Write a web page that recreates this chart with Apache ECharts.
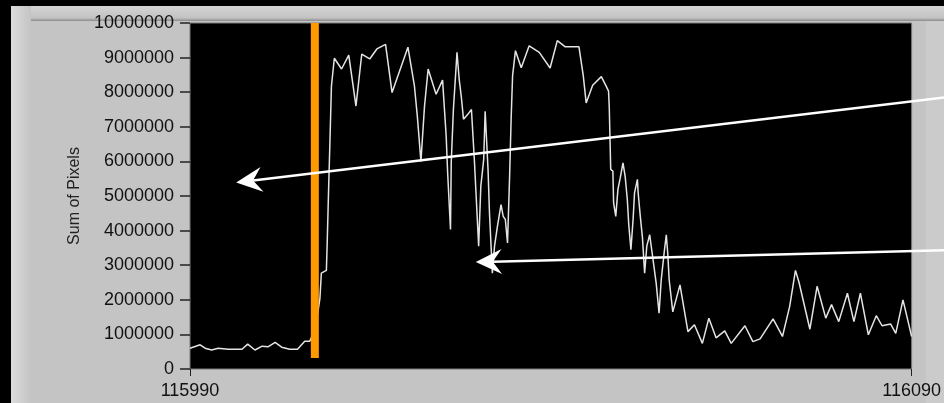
<!DOCTYPE html>
<html>
<head>
<meta charset="utf-8">
<script src="https://cdn.jsdelivr.net/npm/echarts@6/dist/echarts.min.js"></script>
<style>
  html, body { margin: 0; padding: 0; background: #000; }
  #chart { width: 944px; height: 403px; }
</style>
</head>
<body>
<div id="chart"></div>
<script>
// frame number on x, sum of pixels on y
var frameX = [
  115990.0, 115991.4, 115992.1, 115993.0, 115993.9, 115995.3, 115997.2, 115998.0, 115999.0, 116000.0,
  116000.8, 116001.8, 116002.7, 116003.8, 116004.9, 116005.9, 116006.6, 116007.4, 116008.0, 116008.2,
  116008.9, 116009.0, 116009.2, 116009.4, 116009.6, 116010.0, 116011.0, 116012.0, 116013.0, 116013.8,
  116014.9, 116015.9, 116017.1, 116018.0, 116020.2, 116021.1, 116021.5, 116022.0, 116022.5, 116023.0,
  116024.1, 116025.0, 116025.5, 116025.7, 116026.1, 116026.2, 116026.5, 116027.0, 116027.3, 116027.6,
  116027.9, 116028.5, 116029.0, 116029.4, 116030.0, 116030.3, 116030.7, 116030.9, 116031.3, 116031.5,
  116031.9, 116032.2, 116032.6, 116033.1, 116033.4, 116033.7, 116034.0, 116034.3, 116034.5, 116034.7,
  116035.1, 116035.9, 116037.0, 116038.4, 116039.9, 116040.9, 116042.0, 116043.9, 116044.5, 116044.9,
  116045.8, 116047.0, 116047.7, 116048.0, 116048.1, 116048.3, 116048.6, 116048.7, 116049.0, 116049.3,
  116049.6, 116050.0, 116050.3, 116050.6, 116050.8, 116051.1, 116051.4, 116051.6, 116052.0, 116052.1,
  116052.4, 116052.7, 116053.0, 116053.3, 116053.7, 116053.9, 116054.1, 116054.6, 116055.0, 116055.3,
  116055.7, 116056.0, 116056.2, 116056.4, 116056.9, 116057.9, 116059.0, 116059.9, 116061.0, 116061.9,
  116062.9, 116064.1, 116065.0, 116066.9, 116068.0, 116069.0, 116070.8, 116072.1, 116073.1, 116073.9,
  116074.4, 116075.9, 116076.9, 116078.1, 116078.9, 116079.9, 116081.1, 116082.0, 116082.9, 116084.0,
  116085.1, 116085.9, 116087.1, 116087.8, 116088.8, 116090.0
];
var pixelSum = [
  600000, 700000, 600000, 550000, 600000, 570000, 570000, 720000, 550000, 660000,
  640000, 770000, 630000, 570000, 570000, 800000, 800000, 1200000, 2030000, 2770000,
  2850000, 3550000, 5140000, 6640000, 8180000, 8980000, 8670000, 9070000, 7600000, 9100000,
  8960000, 9250000, 9380000, 7990000, 9300000, 8180000, 7310000, 6000000, 7600000, 8670000,
  7940000, 8350000, 6730000, 5680000, 4030000, 5960000, 7500000, 9150000, 8380000, 7860000,
  7220000, 7360000, 7500000, 6060000, 3550000, 5280000, 6060000, 7450000, 5770000, 4510000,
  2770000, 3550000, 4120000, 4750000, 4410000, 4320000, 3640000, 5640000, 7220000, 8470000,
  9200000, 8710000, 9340000, 9150000, 8700000, 9490000, 9310000, 9310000, 8470000, 7690000,
  8200000, 8450000, 8160000, 8030000, 7550000, 5770000, 5720000, 4800000, 4410000, 5190000,
  5500000, 5960000, 5570000, 4900000, 4170000, 3450000, 4320000, 5090000, 5480000, 5100000,
  4410000, 3790000, 2770000, 3550000, 3880000, 3830000, 3260000, 2480000, 1610000, 2580000,
  3350000, 3880000, 3350000, 2580000, 1650000, 2430000, 1080000, 1280000, 740000, 1470000,
  900000, 1100000, 740000, 1250000, 790000, 870000, 1450000, 940000, 1810000, 2850000,
  2500000, 1150000, 2390000, 1470000, 1860000, 1370000, 2190000, 1370000, 2190000, 990000,
  1540000, 1250000, 1300000, 1030000, 2000000, 940000
];

// orange cursor
var cursorX = 116007.3;
var cursorY = [320000, 10000000];

// annotation arrows (tail -> tip, in data units)
var arrowFrom = [[116094.5, 7850000], [116094.5, 3430000]];
var arrowTo = [[115996.4, 5390000], [116029.6, 3090000]];

var labelFont = { fontFamily: 'Liberation Sans', fontSize: 18, color: '#111' };
var plain = function (v) { return String(v); };

var chart = echarts.init(document.getElementById('chart'));

var option = {
  backgroundColor: '#c4c4c4',
  animation: false,
  grid: {
    left: 190, right: 31, top: 23, bottom: 34,
    show: true, backgroundColor: '#000', borderColor: '#7a7a7a', borderWidth: 1
  },
  xAxis: {
    type: 'value', min: 115990, max: 116090, interval: 100,
    axisLine: { show: false },
    axisTick: { show: true, length: 7, lineStyle: { color: '#222' } },
    axisLabel: { ...labelFont, margin: 13, formatter: plain },
    splitLine: { show: false }
  },
  yAxis: {
    type: 'value', min: 0, max: 10000000, interval: 1000000,
    name: 'Sum of Pixels', nameLocation: 'middle', nameGap: 98,
    nameTextStyle: { fontFamily: 'Liberation Sans', fontSize: 16, color: '#222' },
    axisLine: { show: false },
    axisTick: { show: true, length: 10, lineStyle: { color: '#222', width: 1.5 } },
    axisLabel: { ...labelFont, margin: 16, formatter: plain },
    splitLine: { show: false }
  },
  series: [
    {
      type: 'line',
      data: frameX.map(function (x, i) { return [x, pixelSum[i]]; }),
      symbol: 'none',
      lineStyle: { color: '#e4e4e4', width: 1.5 },
      z: 2
    },
    {
      type: 'line',
      data: [[cursorX, cursorY[0]], [cursorX, cursorY[1]]],
      symbol: 'none',
      lineStyle: { color: '#ff9900', width: 8 },
      z: 3
    }
  ]
};
chart.setOption(option);

// arrows and panel bevels
function arrow(from, to) {
  var a = chart.convertToPixel({ gridIndex: 0 }, from);
  var b = chart.convertToPixel({ gridIndex: 0 }, to);
  var dx = b[0] - a[0], dy = b[1] - a[1];
  var len = Math.sqrt(dx * dx + dy * dy);
  var ux = dx / len, uy = dy / len, nx = -uy, ny = ux;
  var L = 26, W = 12.5, N = 17;
  var notch = [b[0] - ux * N, b[1] - uy * N];
  return [
    { type: 'line', z: 100, shape: { x1: a[0], y1: a[1], x2: notch[0], y2: notch[1] },
      style: { stroke: '#fff', lineWidth: 2.5 } },
    { type: 'polygon', z: 100, shape: { points: [
        b,
        [b[0] - ux * L + nx * W, b[1] - uy * L + ny * W],
        notch,
        [b[0] - ux * L - nx * W, b[1] - uy * L - ny * W]
      ] }, style: { fill: '#fff' } }
  ];
}

var graphics = [
  { type: 'rect', shape: { x: 11, y: 6, width: 933, height: 15 },
    style: { fill: new echarts.graphic.LinearGradient(0, 0, 0, 1, [
      { offset: 0, color: '#d4d4d4' }, { offset: 0.8, color: '#c2c2c2' }, { offset: 1, color: '#8a8a8a' }]) } },
  { type: 'rect', shape: { x: 11, y: 6, width: 20, height: 397 },
    style: { fill: new echarts.graphic.LinearGradient(0, 0, 1, 0, [
      { offset: 0, color: '#dcdcdc' }, { offset: 1, color: '#c4c4c4' }]) } },
  { type: 'rect', shape: { x: 926, y: 21, width: 18, height: 382 }, style: { fill: '#cbcbcb' } },
  { type: 'rect', shape: { x: 0, y: 0, width: 944, height: 6 }, style: { fill: '#000' } },
  { type: 'rect', shape: { x: 0, y: 0, width: 11, height: 403 }, style: { fill: '#000' } }
];
for (var i = 0; i < arrowFrom.length; i++) {
  graphics = graphics.concat(arrow(arrowFrom[i], arrowTo[i]));
}
chart.setOption({ graphic: graphics });
</script>
</body>
</html>
